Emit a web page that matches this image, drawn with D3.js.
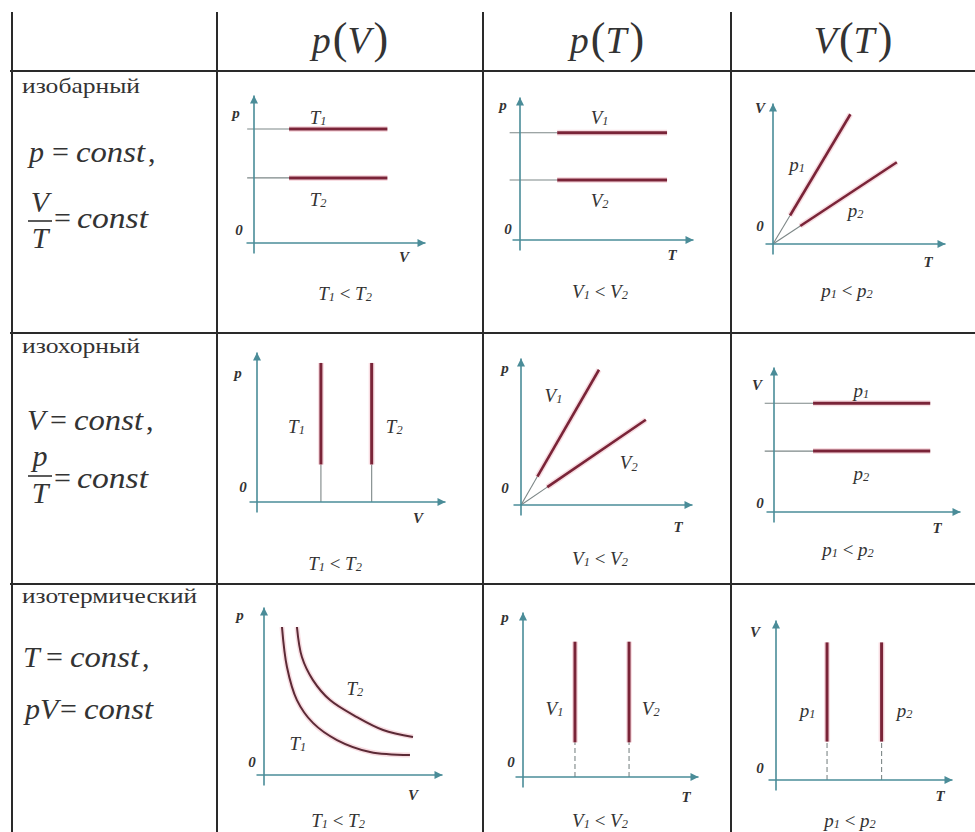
<!DOCTYPE html>
<html>
<head>
<meta charset="utf-8">
<script src="https://cdn.jsdelivr.net/npm/d3@7"></script>
<style>
  body { margin: 0; background: #fff; }
  svg text { font-family: "Liberation Serif", Tinos, "Noto Serif", "DejaVu Serif", FreeSerif, "Times New Roman", serif; fill: #333; }
</style>
</head>
<body>
<div id="chart"></div>
<script>
// table text
var headers = [["p", "V"], ["p", "T"], ["V", "T"]];
var rowNames = ["изобарный", "изохорный", "изотермический"];

// isobaric row (values on a 0..10 scale of each little plot)
var isobarPV = [7.7, 4.4];                    // p for T1, T2
var isobarPT = [7.5, 4.2];                    // p for V1, V2
var isobarVT = [[4.5, 9.2], [7.2, 5.8]];      // ray ends for p1, p2

// isochoric row
var isochorPV = [3.4, 6.1];                   // V for T1, T2
var isochorPT = [[4.56, 9.2], [7.3, 5.8]];    // ray ends for V1, V2
var isochorVT = [7.5, 4.2];                   // V for p1, p2

// isothermal row
var isothermT1 = [[1.01, 8.81], [1.29, 6.43], [1.85, 4.46], [2.75, 3.10], [4.10, 2.08], [5.96, 1.37], [8.20, 1.19]];
var isothermT2 = [[1.85, 8.81], [2.13, 7.02], [2.75, 5.65], [3.71, 4.46], [5.22, 3.45], [6.69, 2.68], [8.37, 2.26]];
var isothermPT = [2.97, 6.06];                // T for V1, V2
var isothermVT = [2.9, 6.0];                  // T for p1, p2

var axisColor = "#4a8c98";
var redColor = "#7a2438";
var haloColor = "#f8dde2";

var svg = d3.select("#chart").append("svg")
  .attr("width", 975)
  .attr("height", 832);

svg.append("defs").append("marker")
  .attr("id", "arrow")
  .attr("viewBox", "0 0 10 10")
  .attr("refX", 10)
  .attr("refY", 5)
  .attr("markerUnits", "userSpaceOnUse")
  .attr("markerWidth", 10)
  .attr("markerHeight", 8)
  .attr("orient", "auto")
  .append("path")
  .attr("d", "M0,0L10,5L0,10Z")
  .attr("fill", axisColor);

// table grid
var colX = [12, 217, 483, 731, 975];
var rowY = [12, 71, 333, 584, 832];

colX.slice(0, 4).forEach(function(x) {
  svg.append("line").attr("x1", x).attr("x2", x).attr("y1", 12).attr("y2", 832)
    .attr("stroke", "#2a2a2a").attr("stroke-width", 2);
});
rowY.slice(1, 4).forEach(function(y) {
  svg.append("line").attr("x1", 10).attr("x2", 975).attr("y1", y).attr("y2", y)
    .attr("stroke", "#2a2a2a").attr("stroke-width", 2);
});

// header: p(V), p(T), V(T)
headers.forEach(function(h, i) {
  var cx = (colX[i + 1] + colX[i + 2]) / 2;
  var t = svg.append("text").attr("x", cx).attr("y", 53)
    .attr("text-anchor", "middle").attr("font-size", 38);
  t.append("tspan").attr("font-style", "italic").text(h[0]);
  t.append("tspan").attr("font-size", 44).attr("font-weight", 300).attr("dx", 2).text("(");
  t.append("tspan").attr("font-style", "italic").text(h[1]);
  t.append("tspan").attr("font-size", 44).attr("font-weight", 300).attr("dx", 3).text(")");
});

// row titles
var nameY = [93, 353, 603];
var nameLen = [118, 118, 175];
rowNames.forEach(function(n, i) {
  svg.append("text").attr("x", 22).attr("y", nameY[i])
    .attr("font-size", 22)
    .attr("textLength", nameLen[i]).attr("lengthAdjust", "spacingAndGlyphs")
    .text(n);
});

// formulas
function mtext(x, y, s, italic, anchor) {
  return svg.append("text").attr("x", x).attr("y", y)
    .attr("font-size", 30)
    .attr("font-style", italic ? "italic" : "normal")
    .attr("text-anchor", anchor || "start")
    .text(s);
}
function constLine(x0, y, head, comma) {
  mtext(x0, y, head, true);
  var eqX = x0 + (head.length > 1 ? 35 : 23);
  mtext(eqX, y, "=", false);
  mtext(eqX + 24, y, "const", true).attr("textLength", 69).attr("lengthAdjust", "spacingAndGlyphs");
  if (comma) mtext(eqX + 96, y, ",", false);
}
function fraction(cx, yNum, yBar, yDen, num, den, yEq) {
  mtext(cx, yNum, num, true, "middle");
  svg.append("line").attr("x1", cx - 12).attr("x2", cx + 12).attr("y1", yBar).attr("y2", yBar)
    .attr("stroke", "#333").attr("stroke-width", 1.6);
  mtext(cx, yDen, den, true, "middle");
  mtext(cx + 14, yEq, "=", false);
  mtext(cx + 37, yEq, "const", true).attr("textLength", 71).attr("lengthAdjust", "spacingAndGlyphs");
}
constLine(29, 162, "p", true);
fraction(40, 212, 221, 248, "V", "T", 228);
constLine(27, 430, "V", true);
fraction(40, 466, 476, 503, "p", "T", 488);
constLine(23, 667, "T", true);
constLine(25, 719, "pV", false);

// small plots
var panels = [
  { ox: 254, oy: 243, w: 171, h: 148, yName: "p", xName: "V", type: "hlines", values: isobarPV, seg: [-0.4, 2.05, 7.8],
    labels: [[["T", "1"]], [["T", "2"]]], lpos: [[3.75, 8.5], [3.75, 3.0]],
    off: { y: [-18, -130], z: [-15, -13], x: [150, 14], cap: [91, 50] }, cap: "T" },
  { ox: 520, oy: 240, w: 173, h: 143, yName: "p", xName: "T", type: "hlines", values: isobarPT, seg: [-0.6, 2.15, 8.5],
    labels: [[["V", "1"]], [["V", "2"]]], lpos: [[4.6, 8.6], [4.6, 2.8]],
    off: { y: [-17, -135], z: [-12, -11], x: [152, 15], cap: [80, 51] }, cap: "V" },
  { ox: 773, oy: 244, w: 172, h: 141, yName: "V", xName: "T", type: "rays", values: isobarVT, seg: [0.22],
    labels: [[["p", "1"]], [["p", "2"]]], lpos: [[1.4, 5.7], [4.8, 2.4]],
    off: { y: [-13, -136], z: [-13, -18], x: [155, 18], cap: [74, 46] }, cap: "p" },
  { ox: 257, oy: 502, w: 188, h: 150, yName: "p", xName: "V", type: "vlines", values: isochorPV, seg: [2.5, 9.27], dashed: false,
    labels: [[["T", "1"]], [["T", "2"]]], lpos: [[2.1, 5.1], [7.3, 5.1]],
    off: { y: [-19, -129], z: [-14, -15], x: [161, 16], cap: [78, 61] }, cap: "T" },
  { ox: 521, oy: 505, w: 171, h: 147, yName: "p", xName: "T", type: "rays", values: isochorPT, seg: [0.21],
    labels: [[["V", "1"]], [["V", "2"]]], lpos: [[1.9, 7.5], [6.3, 2.9]],
    off: { y: [-16, -137], z: [-16, -17], x: [157, 22], cap: [79, 53] }, cap: "V" },
  { ox: 774, oy: 512, w: 186, h: 145, yName: "V", xName: "T", type: "hlines", values: isochorVT, seg: [-0.5, 2.1, 8.4],
    labels: [[["p", "1"]], [["p", "2"]]], lpos: [[4.7, 8.4], [4.7, 2.7]],
    off: { y: [-17, -127], z: [-14, -9], x: [163, 16], cap: [74, 37] }, cap: "p" },
  { ox: 264, oy: 775, w: 178, h: 168, yName: "p", xName: "V", type: "curves", values: [isothermT1, isothermT2],
    labels: [[["T", "2"]], [["T", "1"]]], lpos: [[5.1, 5.2], [1.9, 1.9]],
    off: { y: [-24, -160], z: [-12, -13], x: [149, 20], cap: [74, 45] }, cap: "T" },
  { ox: 523, oy: 777, w: 175, h: 165, yName: "p", xName: "T", type: "vlines", values: isothermPT, seg: [2.1, 8.2], dashed: true,
    labels: [[["V", "1"]], [["V", "2"]]], lpos: [[1.8, 4.2], [7.3, 4.2]],
    off: { y: [-18, -160], z: [-12, -15], x: [163, 20], cap: [77, 43] }, cap: "V" },
  { ox: 776, oy: 780, w: 176, h: 160, yName: "V", xName: "T", type: "vlines", values: isothermVT, seg: [2.4, 8.6], dashed: true,
    labels: [[["p", "1"]], [["p", "2"]]], lpos: [[1.8, 4.4], [7.3, 4.4]],
    off: { y: [-21, -148], z: [-16, -12], x: [164, 16], cap: [74, 40] }, cap: "p" }
];

function richText(g, x, y, items, size) {
  var t = g.append("text").attr("x", x).attr("y", y)
    .attr("text-anchor", "middle").attr("dominant-baseline", "central")
    .attr("font-size", size).attr("font-style", "italic");
  var shift = 0;
  items.forEach(function(it) {
    if (typeof it === "string") {
      t.append("tspan").attr("dy", -shift).attr("font-style", "normal").text(it);
      shift = 0;
    } else {
      t.append("tspan").attr("dy", -shift).text(it[0]);
      t.append("tspan").attr("font-size", size * 0.65).attr("dy", size * 0.22).text(it[1]);
      shift = size * 0.22;
    }
  });
  return t;
}

function redLine(g, d, width) {
  g.append("path").attr("d", d).attr("fill", "none")
    .attr("stroke", haloColor).attr("stroke-width", width + 3).attr("stroke-linecap", "butt");
  g.append("path").attr("d", d).attr("fill", "none")
    .attr("stroke", redColor).attr("stroke-width", width).attr("stroke-linecap", "butt");
}
function thinLine(g, d, dashed) {
  g.append("path").attr("d", d).attr("fill", "none")
    .attr("stroke", "#7d8787").attr("stroke-width", 1.1)
    .attr("stroke-dasharray", dashed ? "5,3" : null);
}

panels.forEach(function(p) {
  var g = svg.append("g");
  var x = d3.scaleLinear().domain([0, 10]).range([p.ox, p.ox + p.w]);
  var y = d3.scaleLinear().domain([0, 10]).range([p.oy, p.oy - p.h]);
  var line = d3.line().x(function(d) { return x(d[0]); }).y(function(d) { return y(d[1]); });

  // marks
  if (p.type === "hlines") {
    p.values.forEach(function(v) {
      thinLine(g, line([[p.seg[0], v], [p.seg[1], v]]), false);
      redLine(g, line([[p.seg[1], v], [p.seg[2], v]]), 3);
    });
  } else if (p.type === "vlines") {
    p.values.forEach(function(v) {
      thinLine(g, line([[v, 0], [v, p.seg[0]]]), p.dashed);
      redLine(g, line([[v, p.seg[0]], [v, p.seg[1]]]), 3);
    });
  } else if (p.type === "rays") {
    p.values.forEach(function(e) {
      var k = p.seg[0];
      thinLine(g, line([[0, 0], [e[0] * k, e[1] * k]]), false);
      redLine(g, line([[e[0] * k, e[1] * k], e]), 2.6);
    });
  } else if (p.type === "curves") {
    var curve = d3.line().x(function(d) { return x(d[0]); }).y(function(d) { return y(d[1]); })
      .curve(d3.curveCatmullRom);
    p.values.forEach(function(pts) {
      g.append("path").attr("d", curve(pts)).attr("fill", "none")
        .attr("stroke", haloColor).attr("stroke-width", 5);
      g.append("path").attr("d", curve(pts)).attr("fill", "none")
        .attr("stroke", "#5c2a36").attr("stroke-width", 2);
    });
  }

  // axes with arrowheads
  var xa = d3.scaleLinear().domain([x.invert(p.ox - 8), 10]).range([p.ox - 8, p.ox + p.w]);
  var ya = d3.scaleLinear().domain([y.invert(p.oy + 10), 10]).range([p.oy + 10, p.oy - p.h]);
  g.append("g").attr("transform", "translate(0," + (p.oy - 0.5) + ")")
    .call(d3.axisBottom(xa).tickValues([]).tickSizeOuter(0))
    .select(".domain").attr("stroke", axisColor).attr("stroke-width", 1.6).attr("marker-end", "url(#arrow)");
  g.append("g").attr("transform", "translate(" + (p.ox - 0.5) + ",0)")
    .call(d3.axisLeft(ya).tickValues([]).tickSizeOuter(0))
    .select(".domain").attr("stroke", axisColor).attr("stroke-width", 1.6).attr("marker-end", "url(#arrow)");

  // axis names and zero
  var small = [[p.yName, p.off.y], ["0", p.off.z], [p.xName, p.off.x]];
  small.forEach(function(s) {
    g.append("text").attr("x", p.ox + s[1][0]).attr("y", p.oy + s[1][1])
      .attr("text-anchor", "middle").attr("dominant-baseline", "central")
      .attr("font-size", 15).attr("font-style", "italic").attr("font-weight", "bold")
      .attr("fill", "#444").text(s[0]);
  });

  // curve labels
  p.labels.forEach(function(l, i) {
    richText(g, x(p.lpos[i][0]), y(p.lpos[i][1]), l, 19);
  });

  // caption under the plot
  richText(g, p.ox + p.off.cap[0], p.oy + p.off.cap[1], [[p.cap, "1"], " < ", [p.cap, "2"]], 19);
});
</script>
</body>
</html>
